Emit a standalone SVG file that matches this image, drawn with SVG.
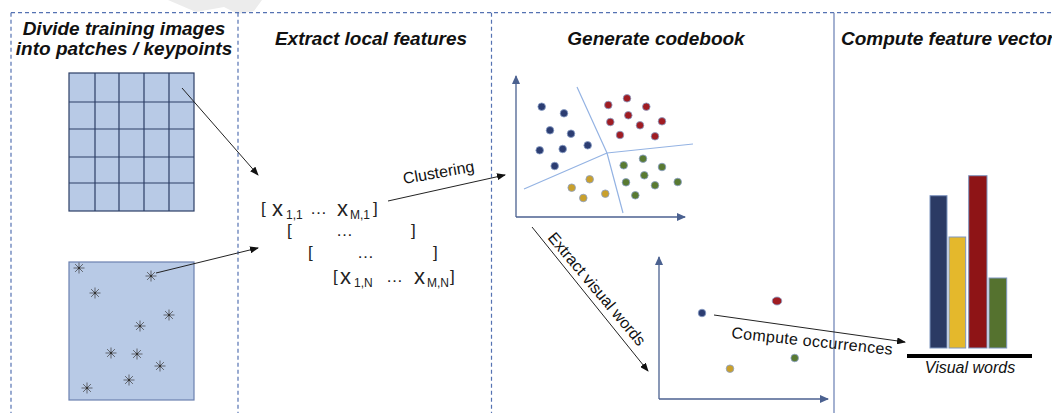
<svg xmlns="http://www.w3.org/2000/svg" width="1052" height="413" viewBox="0 0 1052 413">
<style>
.title{font-family:"Liberation Sans",Arial,sans-serif;font-size:19px;font-weight:bold;font-style:italic;fill:#111}
.lbl{font-family:"Liberation Sans",Arial,sans-serif;font-size:16px;fill:#111}
.mt{font-family:"Liberation Sans",Arial,sans-serif;font-size:17px;fill:#222}
.mx{font-family:"Liberation Sans",Arial,sans-serif;font-size:22px;fill:#222}
.ms{font-family:"Liberation Sans",Arial,sans-serif;font-size:12px;fill:#222}
.dash{stroke:#5572b2;stroke-width:1.2;stroke-dasharray:4 3;fill:none}
.axis{stroke:#4b6190;stroke-width:1.3;fill:none}
.vor{stroke:#94b3e3;stroke-width:1.2;fill:none}
.conn{stroke:#222;stroke-width:1;fill:none}
.cell{fill:#b8cae6;stroke:#2c3e66;stroke-width:1.2}
.star{stroke:#3a3a3a;stroke-width:0.7;fill:none}
.b{fill:#2c3d72;stroke:#8aa0c8;stroke-width:0.8}
.r{fill:#a01c22;stroke:#8aa0c8;stroke-width:0.8}
.g{fill:#597a32;stroke:#8aa0c8;stroke-width:0.8}
.y{fill:#c9a02c;stroke:#8aa0c8;stroke-width:0.8}
.bar{stroke:#7f96c0;stroke-width:1}
</style>
<defs>
<marker id="ah" markerWidth="9" markerHeight="7" refX="8" refY="3.5" orient="auto" markerUnits="userSpaceOnUse">
<path d="M0,0 L9,3.5 L0,7 Z" fill="#111"/>
</marker>
<marker id="ax" markerWidth="9" markerHeight="8" refX="8" refY="4" orient="auto" markerUnits="userSpaceOnUse">
<path d="M0,0 L9,4 L0,8 Z" fill="#4b6190"/>
</marker>
<g id="st">
<path class="star" d="M-5.5,0H5.5M0,-5.5V5.5M-3.9,-3.9L3.9,3.9M-3.9,3.9L3.9,-3.9"/>
<circle r="1.2" fill="#333"/>
</g>
</defs>
<rect width="1052" height="413" fill="#fff"/>
<polygon points="168,0 262,0 254,11 238,14 224,7 196,12" fill="#ececec"/>
<g id="frame">
<line class="dash" x1="11" y1="12.7" x2="1052" y2="12.7"/>
<line class="dash" x1="11" y1="12.7" x2="11" y2="413"/>
<line class="dash" x1="238" y1="12.7" x2="238" y2="413"/>
<line class="dash" x1="491.5" y1="12.7" x2="491.5" y2="413"/>
<line x1="834" y1="12.7" x2="834" y2="413" stroke="#7388b8" stroke-width="1.3"/>
</g>
<g id="titles">
<text class="title" x="124" y="35" text-anchor="middle">Divide training images</text>
<text class="title" x="124" y="55" text-anchor="middle">into patches / keypoints</text>
<text class="title" x="371" y="45" text-anchor="middle">Extract local features</text>
<text class="title" x="656" y="45" text-anchor="middle">Generate codebook</text>
<text class="title" x="841" y="45">Compute feature vector</text>
</g>
<g id="patches">
<rect class="cell" x="69" y="73" width="125" height="138"/>
<path class="cell" d="M95,73V211M119,73V211M144,73V211M169,73V211M69,102H194M69,129H194M69,157H194M69,183H194" fill="none"/>
</g>
<g id="keypoints">
<rect x="69" y="262" width="125" height="138" fill="#b8cae6" stroke="#6b80b0" stroke-width="1.2"/>
<use href="#st" x="79" y="268"/>
<use href="#st" x="151" y="276"/>
<use href="#st" x="95" y="293"/>
<use href="#st" x="169" y="315"/>
<use href="#st" x="140" y="326"/>
<use href="#st" x="111" y="353"/>
<use href="#st" x="137" y="354"/>
<use href="#st" x="160" y="366"/>
<use href="#st" x="129" y="380"/>
<use href="#st" x="87" y="388"/>
</g>
<g id="matrix">
<text class="mt" x="261" y="214">[</text>
<text class="mx" x="272" y="216">x</text>
<text class="ms" x="286" y="219">1,1</text>
<text class="mt" x="310" y="214">…</text>
<text class="mx" x="337" y="216">x</text>
<text class="ms" x="350" y="219">M,1</text>
<text class="mt" x="373" y="214">]</text>
<text class="mt" x="287" y="236">[</text>
<text class="mt" x="336" y="236">…</text>
<text class="mt" x="411" y="236">]</text>
<text class="mt" x="308" y="258">[</text>
<text class="mt" x="357" y="258">…</text>
<text class="mt" x="433" y="258">]</text>
<text class="mt" x="333" y="282">[</text>
<text class="mx" x="340" y="284">x</text>
<text class="ms" x="354" y="287">1,N</text>
<text class="mt" x="386" y="282">…</text>
<text class="mx" x="414" y="284">x</text>
<text class="ms" x="427" y="287">M,N</text>
<text class="mt" x="450" y="282">]</text>
</g>
<g id="codebook">
<line class="axis" x1="516" y1="217" x2="516" y2="76" marker-end="url(#ax)"/>
<line class="axis" x1="516" y1="217" x2="685" y2="217" marker-end="url(#ax)"/>
<path class="vor" d="M607,153L577,87M607,153L693,144M607,153L524,189M607,153L623,213"/>
<circle class="b" cx="541.7" cy="106.7" r="3.8"/>
<circle class="b" cx="564" cy="113.3" r="3.8"/>
<circle class="b" cx="550" cy="130.3" r="3.8"/>
<circle class="b" cx="571" cy="133.7" r="3.8"/>
<circle class="b" cx="587.7" cy="145.3" r="3.8"/>
<circle class="b" cx="539.7" cy="150.3" r="3.8"/>
<circle class="b" cx="562.7" cy="149" r="3.8"/>
<circle class="b" cx="554.7" cy="166" r="3.8"/>
<circle class="r" cx="627" cy="98.3" r="3.8"/>
<circle class="r" cx="608.3" cy="105" r="3.8"/>
<circle class="r" cx="646.3" cy="106.7" r="3.8"/>
<circle class="r" cx="628.3" cy="115.3" r="3.8"/>
<circle class="r" cx="610.3" cy="122" r="3.8"/>
<circle class="r" cx="640" cy="125.3" r="3.8"/>
<circle class="r" cx="662" cy="121.3" r="3.8"/>
<circle class="r" cx="620" cy="135" r="3.8"/>
<circle class="r" cx="655" cy="136.3" r="3.8"/>
<circle class="g" cx="643" cy="158.7" r="3.8"/>
<circle class="g" cx="623.7" cy="165.3" r="3.8"/>
<circle class="g" cx="662" cy="167" r="3.8"/>
<circle class="g" cx="644.3" cy="175.3" r="3.8"/>
<circle class="g" cx="626" cy="182.3" r="3.8"/>
<circle class="g" cx="655" cy="185.3" r="3.8"/>
<circle class="g" cx="677.7" cy="182" r="3.8"/>
<circle class="g" cx="635.3" cy="195.3" r="3.8"/>
<circle class="y" cx="589.7" cy="179.3" r="3.8"/>
<circle class="y" cx="571.7" cy="187.7" r="3.8"/>
<circle class="y" cx="605.3" cy="193.7" r="3.8"/>
<circle class="y" cx="583.3" cy="198" r="3.8"/>
</g>
<g id="visualwords">
<line class="axis" x1="659" y1="399" x2="659" y2="257" marker-end="url(#ax)"/>
<line class="axis" x1="659" y1="399" x2="828" y2="399" marker-end="url(#ax)"/>
<circle class="b" cx="702" cy="313" r="3.8"/>
<ellipse class="r" cx="777" cy="301" rx="4.8" ry="4"/>
<circle class="g" cx="794.7" cy="358" r="3.8"/>
<circle class="y" cx="730" cy="368.7" r="3.8"/>
</g>
<g id="histogram">
<rect class="bar" x="930" y="195.7" width="17" height="152.3" fill="#2b3a64"/>
<rect class="bar" x="949" y="237" width="16.7" height="111" fill="#e4b82c"/>
<rect class="bar" x="968.7" y="175.7" width="18.3" height="172.3" fill="#8e1416"/>
<rect class="bar" x="989" y="278" width="17.7" height="70" fill="#55722f"/>
<line x1="907" y1="356" x2="1032" y2="356" stroke="#000" stroke-width="4"/>
<text class="lbl" x="970" y="373" text-anchor="middle" font-style="italic">Visual words</text>
</g>
<g id="connectors">
<line class="conn" x1="182" y1="88" x2="258" y2="175" marker-end="url(#ah)"/>
<line class="conn" x1="156" y1="273" x2="258" y2="248" marker-end="url(#ah)"/>
<line class="conn" x1="388" y1="201" x2="505" y2="175" marker-end="url(#ah)"/>
<text class="lbl" x="404" y="184" transform="rotate(-10 404 184)">Clustering</text>
<line class="conn" x1="532" y1="227" x2="648" y2="371" marker-end="url(#ah)"/>
<text class="lbl" x="547" y="238" transform="rotate(50 547 238)" font-size="17">Extract visual words</text>
<line class="conn" x1="714" y1="315" x2="905" y2="342" marker-end="url(#ah)"/>
<text class="lbl" x="731" y="338" transform="rotate(6 731 338)" letter-spacing="0.3">Compute occurrences</text>
</g>
</svg>
